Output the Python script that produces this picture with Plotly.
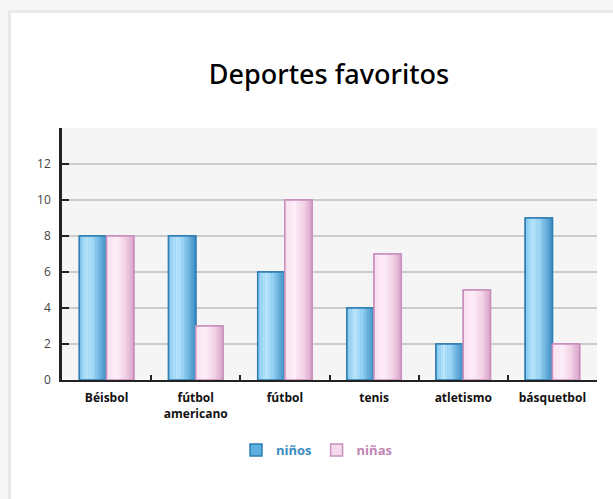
import plotly.graph_objects as go

categories = ["Béisbol", "fútbol<br>americano", "fútbol", "tenis", "atletismo", "básquetbol"]
ninos = [8, 8, 6, 4, 2, 9]
ninas = [8, 3, 10, 7, 5, 2]
series_names = ["niños", "niñas"]
y_ticks = [0, 2, 4, 6, 8, 10, 12]

W, H = 613, 499
ML, MR, MT, MB = 62, 16, 128, 119
PW, PH = W - ML - MR, H - MT - MB

BAR_W = 0.305
N_STRIPS = 12

blue_stops = [(0.0, (0x84, 0xc8, 0xef)), (0.28, (0xbb, 0xe6, 0xfc)), (0.55, (0x98, 0xd3, 0xf4)), (1.0, (0x3a, 0x8c, 0xc2))]
pink_stops = [(0.0, (0xfa, 0xdf, 0xf0)), (0.35, (0xfe, 0xef, 0xf8)), (0.7, (0xf2, 0xd0, 0xe6)), (1.0, (0xd6, 0xa0, 0xc6))]


def grad(stops, t):
    for (t0, c0), (t1, c1) in zip(stops[:-1], stops[1:]):
        if t0 <= t <= t1:
            f = (t - t0) / (t1 - t0) if t1 > t0 else 0
            c = [round(a + (b - a) * f) for a, b in zip(c0, c1)]
            return "rgb(%d,%d,%d)" % tuple(c)
    c = stops[-1][1]
    return "rgb(%d,%d,%d)" % c


fig = go.Figure()

specs = [
    (series_names[0], ninos, -BAR_W, blue_stops, "#2e7db3", "#3a8cc2", "#5eb0e0"),
    (series_names[1], ninas, 0.0, pink_stops, "#c98fbd", "#c184b4", "#f6d9ec"),
]

for name, vals, off, stops, border, txtcol, mid in specs:
    fig.add_trace(go.Bar(
        x=categories, y=vals, width=BAR_W, offset=off,
        marker=dict(color=mid, line=dict(color=border, width=1.5)),
        name="<span style='color:%s'>%s</span>" % (txtcol, name),
        showlegend=True, hoverinfo="skip",
    ))
    sw = BAR_W / N_STRIPS
    for i in range(N_STRIPS):
        t = (i + 0.5) / N_STRIPS
        fig.add_trace(go.Bar(
            x=categories, y=vals, width=sw * 1.08, offset=off + i * sw,
            marker=dict(color=grad(stops, t), line=dict(width=0)),
            showlegend=False, hoverinfo="skip",
        ))
    fig.add_trace(go.Bar(
        x=categories, y=vals, width=BAR_W, offset=off,
        marker=dict(color="rgba(0,0,0,0)", line=dict(color=border, width=1.5)),
        showlegend=False, hoverinfo="skip",
    ))


def px_x(p):
    return (p - ML) / PW


def px_y(p):
    return (H - MB - p) / PH


shapes = [
    dict(type="rect", xref="paper", yref="paper", layer="below",
         x0=px_x(8), x1=px_x(620), y0=px_y(510), y1=px_y(10),
         fillcolor="#e9e9e9", line=dict(width=0)),
    dict(type="rect", xref="paper", yref="paper", layer="below",
         x0=px_x(11), x1=px_x(620), y0=px_y(510), y1=px_y(13),
         fillcolor="white", line=dict(width=0)),
    dict(type="rect", xref="paper", yref="paper", layer="below",
         x0=0, x1=1, y0=0, y1=1,
         fillcolor="#f5f5f5", line=dict(width=0)),
]

fig.update_layout(
    width=W, height=H,
    margin=dict(l=ML, r=MR, t=MT, b=MB, pad=0),
    paper_bgcolor="#f7f7f7",
    plot_bgcolor="rgba(0,0,0,0)",
    barmode="overlay",
    shapes=shapes,
    title=dict(text="Deportes favoritos", x=329 / W, xanchor="center",
               y=1 - 75 / H, yanchor="middle", yref="container",
               font=dict(family="Noto Sans", size=27, color="#000", weight=500)),
    xaxis=dict(
        type="category", range=[-0.5, 5.5],
        showline=True, linecolor="#222", linewidth=2,
        ticks="inside", tickson="boundaries", ticklen=5, tickwidth=2, tickcolor="#222",
        showgrid=False, zeroline=False,
        tickfont=dict(family="Open Sans", size=12, color="#111", weight="bold"),
        ticklabelstandoff=6,
    ),
    yaxis=dict(
        range=[0, 14], tickvals=y_ticks,
        showline=True, linecolor="#222", linewidth=2.5,
        ticks="inside", ticklen=7, tickwidth=2, tickcolor="#222",
        showgrid=True, gridcolor="#cbcbcb", gridwidth=1.5,
        zeroline=False,
        tickfont=dict(family="Open Sans", size=12, color="#444"),
        ticklabelstandoff=6,
    ),
    legend=dict(
        orientation="h", x=px_x(236), xanchor="left",
        y=px_y(450), yanchor="middle",
        font=dict(family="Open Sans", size=13, weight="bold"),
        bgcolor="rgba(0,0,0,0)", itemwidth=30,
        traceorder="normal",
    ),
    showlegend=True,
)

fig.write_html("out.html")
